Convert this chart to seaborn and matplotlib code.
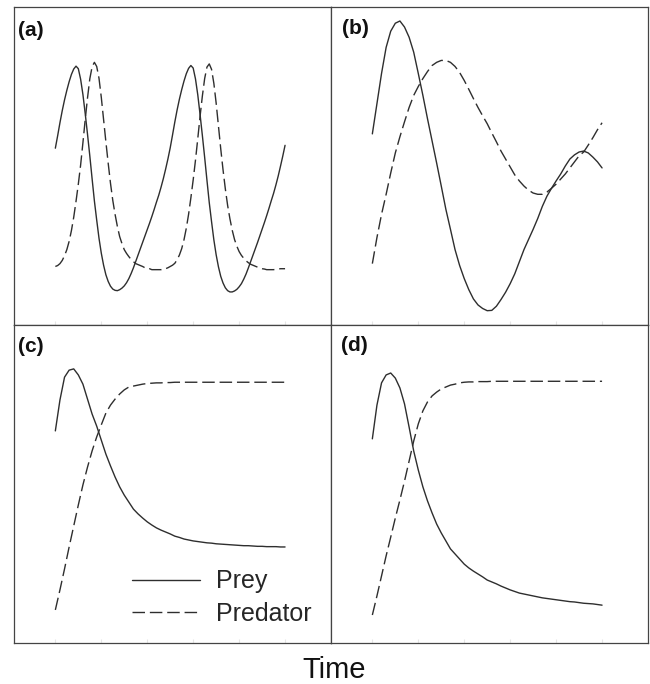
import numpy as np
import matplotlib
matplotlib.use("Agg")
import matplotlib.pyplot as plt
import seaborn as sns

sns.set_style("white")
plt.rcParams["font.family"] = ["Liberation Sans", "DejaVu Sans"]

# time grids (panel a is sampled finer because of its sharp peaks)
time_a = np.round(np.arange(0, 5.001, 0.05), 2)
time = np.round(np.arange(0, 5.001, 0.1), 1)

# (a) limit cycle
prey_a = [55.6, 59.5, 63.6, 67.4, 70.8, 73.8, 76.5, 78.8, 80.5, 81.4,
          80.6, 77.3, 72.5, 66.5, 60.0, 53.2, 46.0, 39.0, 33.0, 27.3,
          22.6, 18.8, 15.8, 13.7, 12.2, 11.3, 10.9, 10.8, 11.1, 11.6,
          12.3, 13.3, 14.6, 16.2, 18.0, 20.0, 22.0, 24.0, 26.0, 28.0,
          30.0, 32.0, 34.1, 36.3, 38.6, 40.8, 43.3, 46.0, 49.0, 52.2,
          55.7, 59.7, 63.8, 67.6, 71.0, 74.0, 76.7, 79.0, 80.7, 81.6,
          80.8, 77.4, 72.4, 66.2, 59.6, 52.7, 45.5, 38.5, 32.5, 26.8,
          22.1, 18.3, 15.3, 13.2, 11.7, 10.8, 10.4, 10.4, 10.7, 11.2,
          12.0, 13.0, 14.4, 16.0, 17.9, 19.9, 21.9, 23.9, 25.9, 28.0,
          30.1, 32.2, 34.4, 36.7, 39.1, 41.4, 44.0, 46.8, 49.9, 53.1,
          56.5]
predator_a = [18.4, 18.7, 19.3, 20.3, 21.8, 23.7, 26.3, 29.7, 33.9, 38.9,
              44.3, 50.3, 57.3, 64.6, 71.4, 77.4, 81.2, 82.6, 81.3, 77.6,
              71.6, 64.6, 57.6, 50.9, 44.6, 39.2, 34.8, 31.0, 27.8, 25.6,
              23.7, 22.5, 21.5, 20.6, 19.9, 19.3, 19.0, 18.7, 18.4, 18.0,
              17.7, 17.7, 17.4, 17.4, 17.4, 17.4, 17.4, 17.7, 17.7, 18.0,
              18.4, 18.8, 19.4, 20.5, 22.0, 24.0, 26.8, 30.4, 34.8, 40.0,
              45.6, 51.8, 58.6, 65.6, 72.0, 77.5, 81.1, 82.1, 80.4, 76.0,
              69.8, 62.6, 55.4, 48.8, 42.8, 37.6, 33.4, 29.8, 26.9, 24.8,
              23.1, 21.9, 21.0, 20.2, 19.6, 19.1, 18.8, 18.5, 18.2, 17.9,
              17.7, 17.6, 17.4, 17.4, 17.4, 17.4, 17.5, 17.6, 17.7, 17.7,
              17.7]

# (b) damped oscillation
prey_b = [60.1, 69.6, 79.1, 87.3, 92.4, 94.9, 95.6, 93.7, 90.5, 85.8,
          79.1, 72.2, 64.9, 57.9, 50.9, 43.7, 36.4, 30.1, 23.7, 18.7,
          14.6, 11.1, 8.2, 6.3, 5.2, 4.5, 4.6, 5.9, 8.0, 10.3,
          13.0, 16.1, 19.9, 23.7, 26.9, 30.1, 33.5, 37.3, 40.5, 43.0,
          45.3, 47.5, 50.0, 52.2, 53.5, 54.4, 54.7, 54.1, 52.8, 51.3,
          49.4]
predator_b = [19.3, 27.5, 34.8, 41.1, 47.8, 54.1, 59.2, 63.9, 68.4, 72.2,
              75.0, 77.5, 79.7, 81.6, 82.6, 83.2, 83.2, 82.6, 81.3, 79.4,
              76.9, 74.1, 71.2, 68.4, 65.8, 63.3, 60.4, 57.6, 54.7, 52.2,
              49.7, 47.2, 45.3, 43.7, 42.4, 41.5, 41.1, 41.1, 41.8, 43.0,
              44.3, 45.9, 47.5, 49.4, 51.3, 53.2, 54.4, 56.6, 58.9, 61.4,
              63.6]

# (c) stable equilibrium
prey_c = [66.7, 76.4, 83.6, 85.8, 86.2, 84.3, 81.4, 76.7, 72.0, 68.2,
          63.8, 59.4, 55.7, 52.2, 49.1, 46.5, 44.3, 42.1, 40.6, 39.3,
          38.1, 37.1, 36.2, 35.5, 34.9, 34.3, 33.6, 33.2, 32.7, 32.4,
          32.1, 31.9, 31.7, 31.5, 31.4, 31.2, 31.1, 31.0, 30.9, 30.8,
          30.7, 30.6, 30.6, 30.5, 30.4, 30.4, 30.3, 30.3, 30.3, 30.2,
          30.2]
predator_c = [10.4, 16.7, 23.3, 30.2, 36.8, 43.4, 49.7, 55.3, 60.4, 64.8,
              68.6, 72.3, 74.8, 76.7, 78.3, 79.6, 80.5, 80.8, 81.1, 81.4,
              81.6, 81.7, 81.8, 81.8, 81.9, 81.9, 82.0, 82.0, 82.0, 82.0,
              82.0, 82.0, 82.0, 82.0, 82.0, 82.0, 82.0, 82.0, 82.0, 82.0,
              82.0, 82.0, 82.0, 82.0, 82.0, 82.0, 82.0, 82.0, 82.0, 82.0,
              82.0]

# (d) stable equilibrium, lower prey level
prey_d = [64.2, 74.8, 81.8, 84.3, 84.9, 83.3, 80.2, 75.2, 67.9, 60.4,
          54.4, 49.1, 44.7, 40.9, 37.4, 34.6, 32.1, 29.6, 28.0, 26.4,
          24.8, 23.6, 22.6, 21.7, 20.8, 19.8, 19.2, 18.6, 17.9, 17.3,
          16.7, 16.2, 15.7, 15.4, 15.1, 14.8, 14.5, 14.2, 14.0, 13.8,
          13.6, 13.4, 13.2, 13.0, 12.9, 12.7, 12.5, 12.4, 12.3, 12.1,
          11.9]
predator_d = [8.8, 14.8, 21.1, 27.4, 33.3, 39.3, 45.0, 50.9, 57.2, 63.5,
              68.9, 73.0, 75.8, 77.7, 78.9, 79.9, 80.5, 81.1, 81.4, 81.8,
              82.0, 82.1, 82.1, 82.2, 82.2, 82.2, 82.3, 82.3, 82.3, 82.3,
              82.3, 82.3, 82.3, 82.3, 82.3, 82.3, 82.3, 82.3, 82.3, 82.3,
              82.3, 82.3, 82.3, 82.3, 82.3, 82.3, 82.3, 82.3, 82.3, 82.3,
              82.3]

panel_labels = ["(a)", "(b)", "(c)", "(d)"]
species = ["Prey", "Predator"]
xlabel = "Time"

line_color = "#2e2e2e"
dashed = (0, (9, 3.5))

fig = plt.figure(figsize=(6.5, 6.84), dpi=100)
gs = fig.add_gridspec(2, 2, left=14 / 650, right=648 / 650,
                      top=1 - 7 / 684, bottom=1 - 643 / 684,
                      wspace=0, hspace=0)
axes = gs.subplots()

panels = [
    (axes[0, 0], time_a, prey_a, predator_a, (0.013, 0.955)),
    (axes[0, 1], time, prey_b, predator_b, (0.034, 0.962)),
    (axes[1, 0], time, prey_c, predator_c, (0.012, 0.962)),
    (axes[1, 1], time, prey_d, predator_d, (0.033, 0.965)),
]

for (ax, t, prey, pred, pos), lab in zip(panels, panel_labels):
    sns.lineplot(x=t, y=prey, ax=ax, color=line_color, linewidth=1.0,
                 legend=False)
    sns.lineplot(x=t, y=pred, ax=ax, color=line_color, linewidth=1.0,
                 linestyle=dashed, legend=False)
    ax.set_xlim(-0.9, 6.0)
    ax.set_ylim(0, 100)
    ax.set_xticks(range(6))
    ax.set_yticks([])
    ax.tick_params(axis="x", direction="in", length=3, color="#e6e6e6",
                   labelbottom=False, bottom=True)
    ax.set_xlabel("")
    ax.set_ylabel("")
    for s in ax.spines.values():
        s.set_color("#444444")
        s.set_linewidth(0.9)
    ax.text(pos[0], pos[1], lab, transform=ax.transAxes, fontsize=15,
            fontweight="bold", ha="left", va="top", color="#111111")

ax_c = axes[1, 0]
ax_c.legend(handles=ax_c.get_lines()[:2], labels=species, loc="lower left",
            bbox_to_anchor=(0.373, 0.055), frameon=False, fontsize=18,
            handlelength=2.7, handletextpad=0.65, labelspacing=0.33,
            borderpad=0, borderaxespad=0)

fig.text(334.5 / 650, 1 - 678 / 684, xlabel, ha="center", va="baseline",
         fontsize=21, color="#111111")

fig.savefig("out.png", dpi=100)
